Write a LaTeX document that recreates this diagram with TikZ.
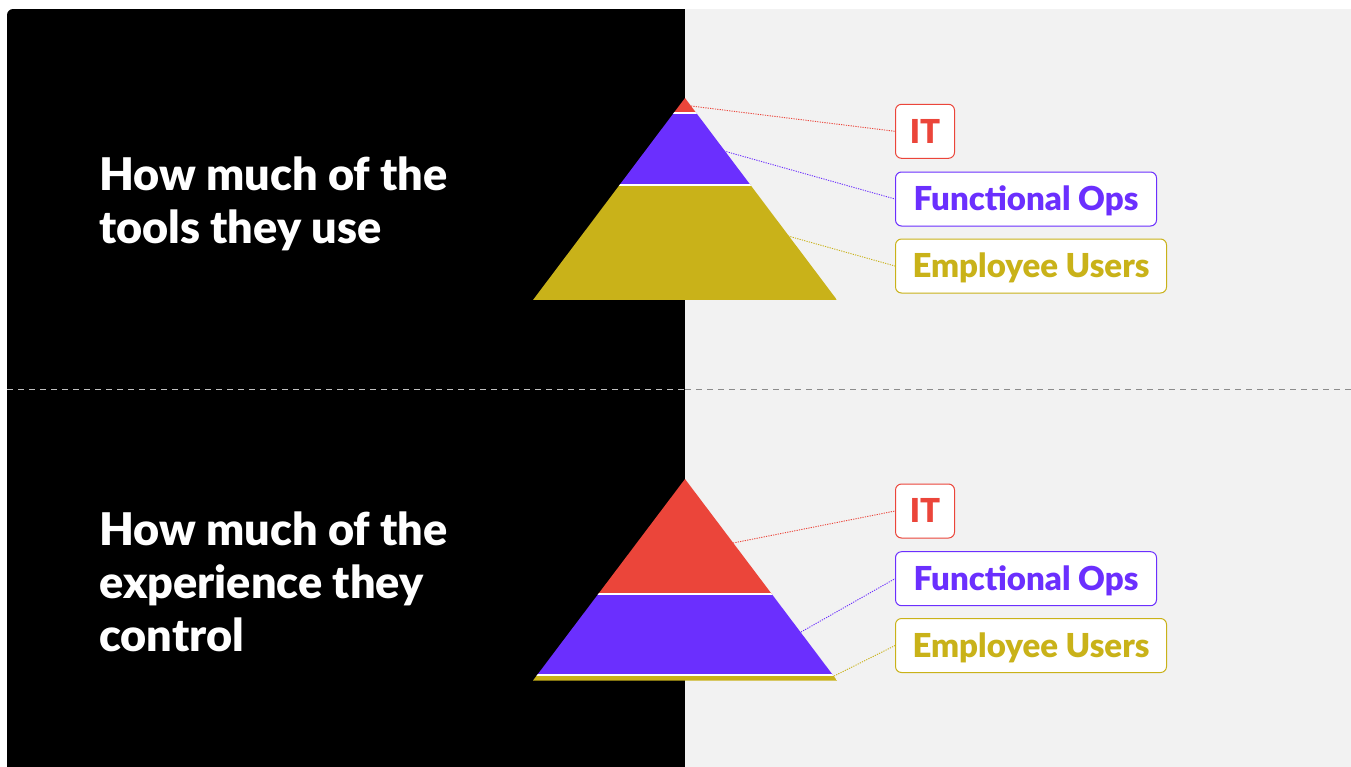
\documentclass[tikz,border=0pt]{standalone}
\usepackage{fontspec}
\setmainfont{Lato}[BoldFont={Lato Black}]
\definecolor{itred}{HTML}{EB453A}
\definecolor{opspurple}{HTML}{6B2FFE}
\definecolor{useryellow}{HTML}{C9B219}
\definecolor{panelgray}{HTML}{F2F2F2}
\begin{document}
\begin{tikzpicture}[x=1pt, y=-1pt,
    title/.style={anchor=base west, align=left, inner sep=0, text=white, font=\fontsize{45}{53}\selectfont\bfseries},
    tag/.style={anchor=west, draw=#1, text=#1, fill=white, line width=1pt, rounded corners=6pt, minimum height=54pt, inner xsep=0pt, text height=23.5pt, text depth=0pt, font=\fontsize{33}{36}\selectfont\bfseries},
    link/.style={#1, line width=0.9pt, dash pattern=on 1.2pt off 1.2pt}]
    \useasboundingbox (0,0) rectangle (1351,766);
    % panels
    \fill[white] (0,0) rectangle (1351,766);
    \fill[black] (7,772) [rounded corners=6pt] -- (7,9) [sharp corners] -- (685,9) -- (685,772) -- cycle;
    \fill[panelgray] (685,9) rectangle (1355,772);
    \draw[black!25, line width=1.2pt, dash pattern=on 6pt off 5pt] (7,389.5) -- (685,389.5);
    \draw[black!45, line width=1.2pt, dash pattern=on 6pt off 5pt] (685,389.5) -- (1351,389.5);

    % titles
    \node[title] (tools) at (99,243) {How much of the\\tools they use};
    \node[title] (experience) at (99,651) {How much of the\\experience they\\control};

    % top pyramid
    \begin{scope}
        \clip (685,98) -- (837,300) -- (533,300) -- cycle;
        \fill[itred] (533,98) rectangle (837,113);
        \fill[opspurple] (533,113) rectangle (837,185);
        \fill[useryellow] (533,185) rectangle (837,300);
        \draw[white, line width=2.2pt] (533,113) -- (837,113) (533,185) -- (837,185);
    \end{scope}
    \coordinate (itTip1) at (691,106);
    \coordinate (opsTip1) at (724,151);
    \coordinate (usersTip1) at (788,236);

    % bottom pyramid
    \begin{scope}
        \clip (685,479) -- (837,680.5) -- (533,680.5) -- cycle;
        \fill[itred] (533,479) rectangle (837,594);
        \fill[opspurple] (533,594) rectangle (837,675);
        \fill[useryellow] (533,675) rectangle (837,681);
        \draw[white, line width=2.2pt] (533,594) -- (837,594) (533,675) -- (837,675);
    \end{scope}
    \coordinate (itTip2) at (733,543);
    \coordinate (opsTip2) at (801,632);
    \coordinate (usersTip2) at (834,676);

    % labels
    \node[tag=itred, minimum width=59pt] (it1) at (895,131.3) {IT};
    \node[tag=opspurple, minimum width=261pt] (ops1) at (895,199) {Functional Ops};
    \node[tag=useryellow, minimum width=271pt] (users1) at (895,266) {Employee Users};
    \node[tag=itred, minimum width=59pt] (it2) at (895,511) {IT};
    \node[tag=opspurple, minimum width=261pt] (ops2) at (895,578.7) {Functional Ops};
    \node[tag=useryellow, minimum width=271pt] (users2) at (895,645.5) {Employee Users};

    % connectors
    \draw[link=itred] (itTip1) -- (it1.west);
    \draw[link=opspurple] (opsTip1) -- (ops1.west);
    \draw[link=useryellow] (usersTip1) -- (users1.west);
    \draw[link=itred] (itTip2) -- (it2.west);
    \draw[link=opspurple] (opsTip2) -- (ops2.west);
    \draw[link=useryellow] (usersTip2) -- (users2.west);
\end{tikzpicture}
\end{document}
